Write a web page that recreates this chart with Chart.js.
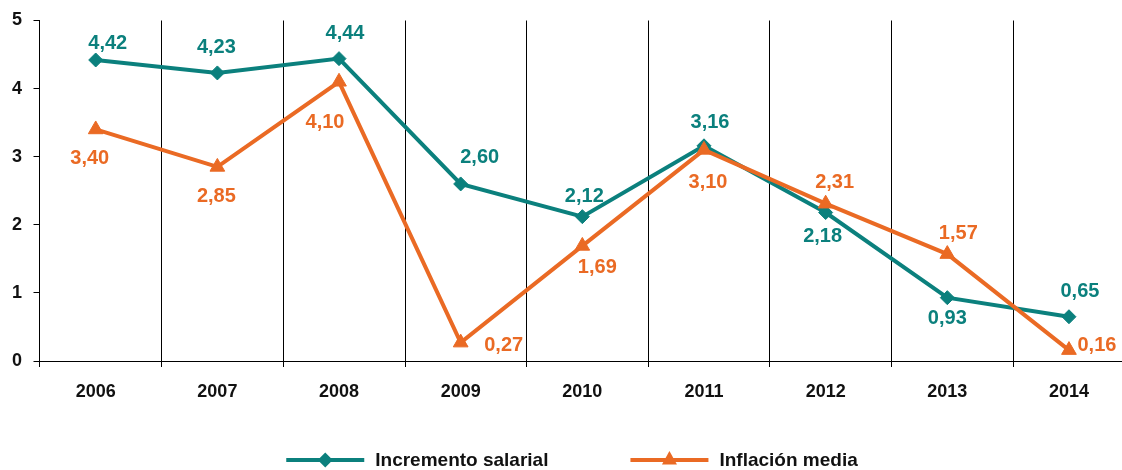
<!DOCTYPE html>
<html lang="es">
<head>
<meta charset="utf-8">
<title>Incremento salarial e inflación media 2006-2014</title>
<script src="https://cdn.jsdelivr.net/npm/chart.js@4/dist/chart.umd.min.js"></script>
<style>
  html, body { margin: 0; padding: 0; background: #ffffff; overflow: hidden; }
  #wrap { position: relative; width: 1122px; height: 470px; }
  canvas { display: block; }
</style>
</head>
<body>
<div id="wrap"><canvas id="chart" width="1122" height="470"></canvas></div>
<script>
// Years on the horizontal axis
const years = ['2006', '2007', '2008', '2009', '2010', '2011', '2012', '2013', '2014'];
// Average wage increase (%)
const incrementoSalarial = [4.42, 4.23, 4.44, 2.60, 2.12, 3.16, 2.18, 0.93, 0.65];
// Average inflation (%)
const inflacionMedia = [3.40, 2.85, 4.10, 0.27, 1.69, 3.10, 2.31, 1.57, 0.16];
// Vertical axis ticks
const yTicks = [0, 1, 2, 3, 4, 5];

const TEAL = '#0b807d';
const ORANGE = '#ea6a24';
const FONT = '"Liberation Sans", Arial, Helvetica, sans-serif';

// Where each value label sits relative to its marker (dx, dy in px)
const tealLabelShift = [[12, -17], [-1, -25], [6, -25], [19, -26], [2, -20], [6, -23], [-3, 24], [0, 21], [11, -25]];
const orangeLabelShift = [[-6, 29], [-1, 30], [-14, 41], [43, 3], [15, 22], [4, 33], [9, -21], [11, -21], [28, -5]];

const fmt = v => v.toFixed(2).replace('.', ',');

// Horizontal extent of the plot (in year-index units) and the separators between years
const xMin = -0.462;
const xMax = 8.436;
const separators = [xMin].concat(years.map((_, i) => i + 0.5425));

const valueLabels = {
  id: 'valueLabels',
  afterDatasetsDraw(chart) {
    const ctx = chart.ctx;
    ctx.save();
    ctx.font = 'bold 20px ' + FONT;
    ctx.textAlign = 'center';
    ctx.textBaseline = 'middle';
    chart.data.datasets.forEach((ds, di) => {
      const meta = chart.getDatasetMeta(di);
      meta.data.forEach((pt, i) => {
        const s = ds.labelShift[i];
        ctx.fillStyle = ds.borderColor;
        ctx.fillText(fmt(ds.data[i].y), pt.x + s[0], pt.y + s[1]);
      });
    });
    ctx.restore();
  }
};

// Legend: line sample with its marker, then the series name
const lineLegend = {
  id: 'lineLegend',
  afterDraw(chart) {
    const ctx = chart.ctx;
    const items = [
      { text: 'Incremento salarial', color: TEAL, marker: 'diamond' },
      { text: 'Inflación media', color: ORANGE, marker: 'triangle' }
    ];
    const sample = 78, gapText = 11, gapItem = 82, y = 460;
    ctx.save();
    ctx.font = 'bold 19px ' + FONT;
    ctx.textBaseline = 'middle';
    ctx.textAlign = 'left';
    const widths = items.map(it => sample + gapText + ctx.measureText(it.text).width);
    const total = widths.reduce((a, b) => a + b, 0) + gapItem * (items.length - 1);
    let x = chart.width / 2 + 11 - total / 2;
    items.forEach((it, k) => {
      ctx.strokeStyle = it.color;
      ctx.fillStyle = it.color;
      ctx.lineWidth = 4;
      ctx.beginPath();
      ctx.moveTo(x, y);
      ctx.lineTo(x + sample, y);
      ctx.stroke();
      const cx = x + sample / 2;
      ctx.beginPath();
      if (it.marker === 'diamond') {
        ctx.moveTo(cx, y - 7.5); ctx.lineTo(cx + 7.5, y); ctx.lineTo(cx, y + 7.5); ctx.lineTo(cx - 7.5, y);
      } else {
        ctx.moveTo(cx, y - 9); ctx.lineTo(cx + 7.5, y + 4.5); ctx.lineTo(cx - 7.5, y + 4.5);
      }
      ctx.closePath();
      ctx.fill();
      ctx.fillStyle = '#111111';
      ctx.fillText(it.text, x + sample + gapText, y + 1);
      x += widths[k] + gapItem;
    });
    ctx.restore();
  }
};

const toPoints = arr => arr.map((v, i) => ({ x: i, y: v }));

new Chart(document.getElementById('chart'), {
  type: 'line',
  data: {
    datasets: [
      {
        label: 'Incremento salarial',
        data: toPoints(incrementoSalarial),
        labelShift: tealLabelShift,
        borderColor: TEAL,
        backgroundColor: TEAL,
        borderWidth: 4,
        pointStyle: 'rectRot',
        pointRadius: 7,
        pointBorderWidth: 1,
        pointHoverRadius: 7,
        tension: 0,
        clip: false,
        order: 1,
        xAxisID: 'x',
        yAxisID: 'y'
      },
      {
        label: 'Inflación media',
        data: toPoints(inflacionMedia),
        labelShift: orangeLabelShift,
        borderColor: ORANGE,
        backgroundColor: ORANGE,
        borderWidth: 4,
        pointStyle: 'triangle',
        pointRadius: 8.5,
        pointBorderWidth: 1,
        pointHoverRadius: 8.5,
        tension: 0,
        clip: false,
        order: 0,
        xAxisID: 'x',
        yAxisID: 'y'
      }
    ]
  },
  options: {
    responsive: false,
    maintainAspectRatio: false,
    animation: false,
    devicePixelRatio: 1,
    layout: { autoPadding: false, padding: { left: 0.5, right: 0, top: 20.5, bottom: 53.4 } },
    plugins: {
      legend: { display: false },
      tooltip: { enabled: false }
    },
    scales: {
      // separators between years, with short marks under the axis
      x: {
        type: 'linear',
        position: 'bottom',
        weight: 0,
        min: xMin,
        max: xMax,
        afterBuildTicks: scale => { scale.ticks = separators.map(v => ({ value: v })); },
        grid: { display: true, drawOnChartArea: true, drawTicks: true, tickLength: 6, color: '#000000', lineWidth: 1 },
        border: { display: true, color: '#000000', width: 1 },
        ticks: { display: false }
      },
      // year labels
      xLabels: {
        type: 'linear',
        position: 'bottom',
        weight: 1,
        min: xMin,
        max: xMax,
        afterBuildTicks: scale => { scale.ticks = years.map((_, i) => ({ value: i })); },
        grid: { display: false, drawTicks: false },
        border: { display: false },
        ticks: {
          padding: 14,
          maxRotation: 0,
          autoSkip: false,
          color: '#111111',
          font: { family: FONT, size: 18, weight: 'bold' },
          callback: (v) => years[v] !== undefined ? years[v] : ''
        }
      },
      y: {
        type: 'linear',
        position: 'left',
        min: 0,
        max: 5,
        afterBuildTicks: scale => { scale.ticks = yTicks.map(v => ({ value: v })); },
        grid: { display: true, drawOnChartArea: false, drawTicks: true, tickLength: 6, color: '#000000' },
        border: { display: true, color: '#000000', width: 1 },
        ticks: {
          padding: 11.5,
          color: '#111111',
          font: { family: FONT, size: 18, weight: 'bold', lineHeight: 0.9 },
          callback: v => String(v)
        }
      }
    }
  },
  plugins: [valueLabels, lineLegend]
});
</script>
</body>
</html>
